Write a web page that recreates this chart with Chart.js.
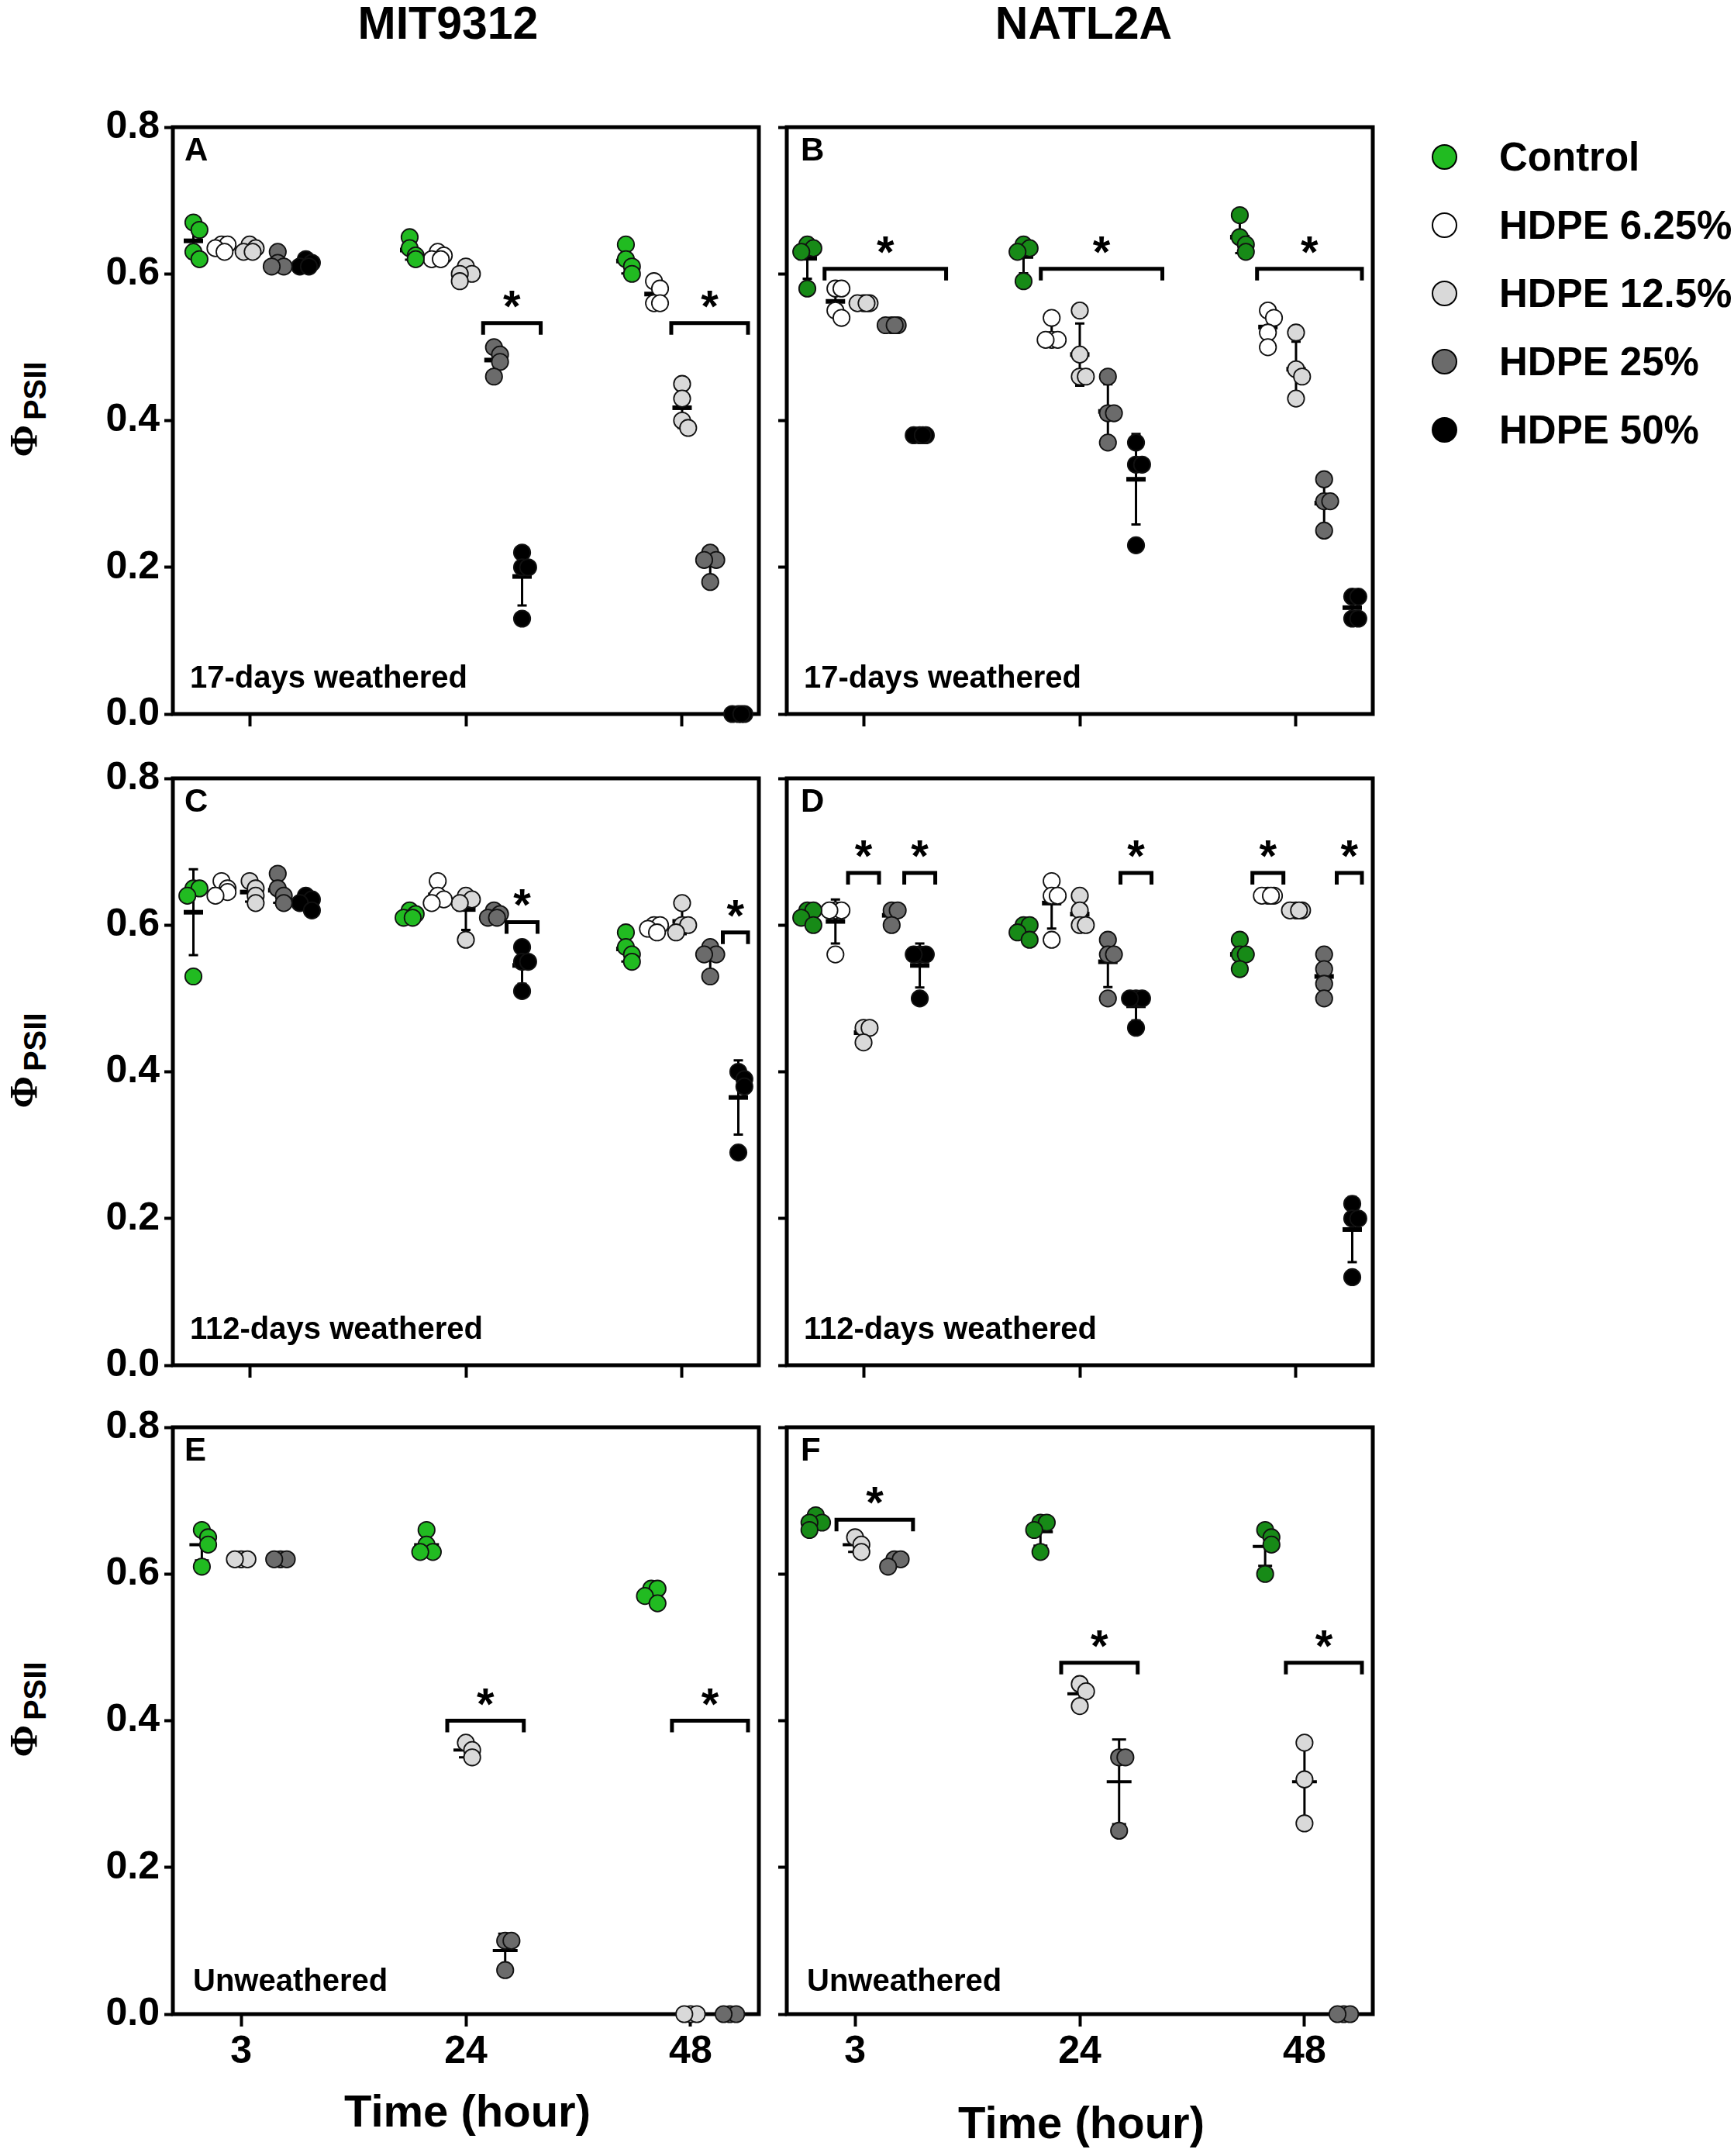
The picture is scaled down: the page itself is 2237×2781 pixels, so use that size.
<!DOCTYPE html>
<html>
<head>
<meta charset="utf-8">
<script src="https://cdn.jsdelivr.net/npm/chart.js@4.4.1/dist/chart.umd.min.js"></script>
<style>
  body { margin: 0; background: #fff; }
  #page { position: relative; width: 2237px; height: 2781px; font-family: "Liberation Sans", Arial, sans-serif; font-weight: bold; color: #000; overflow: hidden; }
  #page canvas { position: absolute; }
  .txt { position: absolute; line-height: 1; white-space: nowrap; z-index: 2; }
  .center { transform: translateX(-50%); }
  .ytitle { position: absolute; line-height: 1; white-space: nowrap; transform: translate(-50%, -50%) rotate(-90deg); }
  .ytitle .phi { font-family: "Liberation Serif", serif; font-size: 50px; font-weight: bold; }
  .ytitle .sub { font-size: 40px; position: relative; top: 12px; margin-left: 6px; }
  .dot { position: absolute; width: 33px; height: 33px; border-radius: 50%; border: 2.5px solid #000; box-sizing: border-box; }
</style>
</head>
<body>
<div id="page"></div>
<script>
// ---- data ----
const timeLabels = ['3', '24', '48'];
const treatments = ['Control', 'HDPE 6.25%', 'HDPE 12.5%', 'HDPE 25%', 'HDPE 50%'];
const strains = ['MIT9312', 'NATL2A'];
const conditions = ['17-days weathered', '112-days weathered', 'Unweathered'];

// each array: [3 h replicates, 24 h replicates, 48 h replicates]
const A_ctrl = [[0.67, 0.66, 0.63, 0.62], [0.65, 0.635, 0.625, 0.62], [0.64, 0.62, 0.61, 0.60]];
const A_p6   = [[0.64, 0.64, 0.635, 0.63], [0.63, 0.625, 0.62, 0.62], [0.59, 0.58, 0.56, 0.56]];
const A_p12  = [[0.64, 0.635, 0.63, 0.63], [0.61, 0.60, 0.60, 0.59], [0.45, 0.43, 0.40, 0.39]];
const A_p25  = [[0.63, 0.615, 0.61, 0.61], [0.50, 0.49, 0.48, 0.46], [0.22, 0.21, 0.21, 0.18]];
const A_p50  = [[0.62, 0.615, 0.61, 0.61], [0.22, 0.20, 0.20, 0.13], [0, 0, 0, 0]];

const B_ctrl = [[0.64, 0.635, 0.63, 0.58], [0.64, 0.635, 0.63, 0.59], [0.68, 0.65, 0.64, 0.63]];
const B_p6   = [[0.58, 0.58, 0.55, 0.54], [0.54, 0.51, 0.51, 0.51], [0.55, 0.54, 0.52, 0.50]];
const B_p12  = [[0.56, 0.56, 0.56, 0.56], [0.55, 0.49, 0.46, 0.46], [0.52, 0.47, 0.46, 0.43]];
const B_p25  = [[0.53, 0.53, 0.53, 0.53], [0.46, 0.41, 0.41, 0.37], [0.32, 0.29, 0.29, 0.25]];
const B_p50  = [[0.38, 0.38, 0.38, 0.38], [0.37, 0.34, 0.34, 0.23], [0.16, 0.16, 0.13, 0.13]];

const C_ctrl = [[0.65, 0.65, 0.64, 0.53], [0.62, 0.615, 0.61, 0.61], [0.59, 0.57, 0.56, 0.55]];
const C_p6   = [[0.66, 0.65, 0.645, 0.64], [0.66, 0.64, 0.635, 0.63], [0.60, 0.60, 0.595, 0.59]];
const C_p12  = [[0.66, 0.65, 0.64, 0.63], [0.64, 0.635, 0.63, 0.58], [0.63, 0.60, 0.60, 0.59]];
const C_p25  = [[0.67, 0.65, 0.64, 0.63], [0.62, 0.615, 0.61, 0.61], [0.57, 0.56, 0.56, 0.53]];
const C_p50  = [[0.64, 0.635, 0.63, 0.62], [0.57, 0.55, 0.55, 0.51], [0.40, 0.39, 0.38, 0.29]];

const D_ctrl = [[0.62, 0.62, 0.61, 0.60], [0.60, 0.60, 0.59, 0.58], [0.58, 0.56, 0.56, 0.54]];
const D_p6   = [[0.62, 0.62, 0.62, 0.56], [0.66, 0.64, 0.64, 0.58], [0.64, 0.64, 0.64, 0.64]];
const D_p12  = [[0.46, 0.46, 0.44], [0.64, 0.62, 0.60, 0.60], [0.62, 0.62, 0.62, 0.62]];
const D_p25  = [[0.62, 0.62, 0.60], [0.58, 0.56, 0.56, 0.50], [0.56, 0.54, 0.52, 0.50]];
const D_p50  = [[0.56, 0.56, 0.56, 0.50], [0.50, 0.50, 0.50, 0.46], [0.22, 0.20, 0.20, 0.12]];

const E_ctrl = [[0.66, 0.65, 0.64, 0.61], [0.66, 0.64, 0.63, 0.63], [0.58, 0.58, 0.57, 0.56]];
const E_p12  = [[0.62, 0.62, 0.62], [0.37, 0.36, 0.35], [0, 0, 0]];
const E_p25  = [[0.62, 0.62, 0.62], [0.10, 0.10, 0.06], [0, 0, 0]];

const F_ctrl = [[0.68, 0.67, 0.67, 0.66], [0.67, 0.67, 0.66, 0.63], [0.66, 0.65, 0.64, 0.60]];
const F_p12  = [[0.65, 0.64, 0.63], [0.45, 0.44, 0.42], [0.37, 0.32, 0.26]];
const F_p25  = [[0.62, 0.62, 0.61], [0.35, 0.35, 0.25], [0, 0, 0]];

// significance brackets: [time index, first treatment, last treatment, bracket height]
const A_sig = [[1, 3, 4, 0.533], [2, 2, 4, 0.533]];
const B_sig = [[0, 1, 4, 0.607], [1, 1, 4, 0.607], [2, 1, 4, 0.607]];
const C_sig = [[1, 4, 4, 0.604], [2, 4, 4, 0.590]];
const D_sig = [[0, 2, 2, 0.671], [0, 4, 4, 0.671], [1, 4, 4, 0.671], [2, 1, 1, 0.671], [2, 4, 4, 0.671]];
const E_sig = [[1, 2, 3, 0.40], [2, 2, 3, 0.40]];
const F_sig = [[0, 2, 3, 0.674], [1, 2, 3, 0.479], [2, 2, 3, 0.479]];

// ---- styling / layout ----
const greenMIT = '#21bb21';
const greenNATL = '#178a17';
const fills = [null, '#ffffff', '#d9d9d9', '#6b6b6b', '#000000'];
const FONT = '"Liberation Sans", Arial, sans-serif';

const colLeft = [223, 1015];
const rowTop = [164, 1004, 1841];
const panelW = 756, panelH = 757;

const offsets5 = [-0.26, -0.13, 0, 0.13, 0.26];
const offsets3 = [-0.175, null, 0, 0.175, null];

const panels = [
  { id: 'A', col: 0, row: 0, series: [A_ctrl, A_p6, A_p12, A_p25, A_p50], sig: A_sig, mRight: 24 },
  { id: 'B', col: 1, row: 0, series: [B_ctrl, B_p6, B_p12, B_p25, B_p50], sig: B_sig, mRight: 34 },
  { id: 'C', col: 0, row: 1, series: [C_ctrl, C_p6, C_p12, C_p25, C_p50], sig: C_sig, mRight: 24 },
  { id: 'D', col: 1, row: 1, series: [D_ctrl, D_p6, D_p12, D_p25, D_p50], sig: D_sig, mRight: 24 },
  { id: 'E', col: 0, row: 2, series: [E_ctrl, null, E_p12, E_p25, null], sig: E_sig, mRight: 24 },
  { id: 'F', col: 1, row: 2, series: [F_ctrl, null, F_p12, F_p25, null], sig: F_sig, mRight: 24 },
];

const page = document.getElementById('page');

function addText(str, left, top, size, extraClass) {
  const d = document.createElement('div');
  d.className = 'txt' + (extraClass ? ' ' + extraClass : '');
  d.textContent = str;
  d.style.left = left + 'px';
  d.style.top = top + 'px';
  d.style.fontSize = size + 'px';
  page.appendChild(d);
  return d;
}

const mean = a => a.reduce((s, v) => s + v, 0) / a.length;
const sd = a => {
  if (a.length < 2) return 0;
  const m = mean(a);
  return Math.sqrt(a.reduce((s, v) => s + (v - m) * (v - m), 0) / (a.length - 1));
};

// spread overlapping replicates sideways a little, like the scatter-dot plot
const spread = [0, 1, -1, 0.5];
function toPoints(cells, offset, step) {
  const pts = [];
  cells.forEach((vals, g) => {
    vals.forEach((v, i) => {
      const near = vals.slice(0, i).filter(u => Math.abs(u - v) < 0.012).length;
      pts.push({ x: g + offset + spread[near % spread.length] * step, y: v });
    });
  });
  return pts;
}

const panelDecor = {
  id: 'panelDecor',
  beforeDatasetsDraw(chart, args, o) {
    const { ctx, chartArea: a, scales: { x, y } } = chart;
    ctx.save();
    ctx.strokeStyle = '#000';
    ctx.lineWidth = 5;
    ctx.strokeRect(a.left, a.top, a.right - a.left, a.bottom - a.top);

    // mean and SD
    chart.data.datasets.forEach(ds => {
      ds.cells.forEach((vals, g) => {
        const m = mean(vals), s = sd(vals);
        const cx = x.getPixelForValue(g + ds.offset);
        const ym = y.getPixelForValue(m);
        if (s > 0) {
          const yt = y.getPixelForValue(m + s), yb = y.getPixelForValue(Math.max(m - s, 0));
          ctx.lineWidth = 3;
          ctx.beginPath();
          ctx.moveTo(cx, yt); ctx.lineTo(cx, yb);
          ctx.moveTo(cx - o.capW / 2, yt); ctx.lineTo(cx + o.capW / 2, yt);
          ctx.moveTo(cx - o.capW / 2, yb); ctx.lineTo(cx + o.capW / 2, yb);
          ctx.stroke();
        }
        ctx.lineWidth = o.barH;
        ctx.beginPath();
        ctx.moveTo(cx - o.barW / 2, ym); ctx.lineTo(cx + o.barW / 2, ym);
        ctx.stroke();
      });
    });
    ctx.restore();
  },
  afterDatasetsDraw(chart, args, o) {
    const { ctx, chartArea: a, scales: { x, y } } = chart;
    ctx.save();
    ctx.strokeStyle = '#000';
    ctx.fillStyle = '#000';
    ctx.lineWidth = 5;
    ctx.lineJoin = 'miter';
    ctx.font = 'bold 58px ' + FONT;
    ctx.textAlign = 'center';
    ctx.textBaseline = 'alphabetic';
    o.sig.forEach(([g, t0, t1, v]) => {
      const single = t0 === t1;
      const xa = x.getPixelForValue(g + o.offsets[t0]) - (single ? o.mSingle : o.mLeft);
      const xb = Math.min(x.getPixelForValue(g + o.offsets[t1]) + (single ? o.mSingle : o.mRight), a.right - 14);
      const yp = y.getPixelForValue(v);
      ctx.beginPath();
      ctx.moveTo(xa, yp + 15); ctx.lineTo(xa, yp); ctx.lineTo(xb, yp); ctx.lineTo(xb, yp + 15);
      ctx.stroke();
      ctx.fillText('*', (xa + xb) / 2, yp - 2);
    });
    ctx.restore();
  }
};

panels.forEach(p => {
  const left = colLeft[p.col], top = rowTop[p.row];
  const bottomRow = p.row === 2;
  const three = p.id === 'E' || p.id === 'F';
  const offsets = three ? offsets3 : offsets5;
  const xMin = three ? -0.304 : -0.355, xMax = three ? 2.304 : 2.355;
  const axL = p.col === 0 ? 110 : 30;
  const padT = 40, padR = 20;
  const axB = bottomRow ? 110 : 40;

  const cv = document.createElement('canvas');
  cv.width = panelW + axL + padR;
  cv.height = panelH + padT + axB;
  cv.style.left = (left - axL) + 'px';
  cv.style.top = (top - padT) + 'px';
  page.appendChild(cv);

  const datasets = [];
  p.series.forEach((cells, t) => {
    if (!cells) return;
    datasets.push({
      label: treatments[t],
      data: toPoints(cells, offsets[t], 0.028),
      cells: cells,
      offset: offsets[t],
      pointRadius: 10.7,
      pointHoverRadius: 10.7,
      pointBackgroundColor: t === 0 ? (p.col === 0 ? greenMIT : greenNATL) : fills[t],
      pointBorderColor: '#111',
      pointBorderWidth: 1.8,
      showLine: false,
      clip: false
    });
  });

  new Chart(cv.getContext('2d'), {
    type: 'scatter',
    data: { datasets },
    options: {
      responsive: false,
      animation: false,
      devicePixelRatio: 1,
      layout: { padding: { top: padT, right: padR, left: 0, bottom: 0 } },
      plugins: {
        legend: { display: false },
        tooltip: { enabled: false },
        panelDecor: {
          sig: p.sig, offsets,
          barW: three ? 32 : 25, barH: three ? 4 : 6, capW: three ? 18 : 12,
          mLeft: three ? 24 : 14, mRight: p.mRight, mSingle: 20
        }
      },
      scales: {
        x: {
          type: 'linear', min: xMin, max: xMax,
          afterBuildTicks: s => { s.ticks = [0, 1, 2].map(v => ({ value: v })); },
          afterFit: s => { s.height = axB; s.paddingLeft = 0; s.paddingRight = 0; },
          ticks: {
            autoSkip: false, maxRotation: 0, padding: 3, color: '#000',
            font: { family: FONT, size: 50, weight: 'bold' },
            callback: (v, i) => bottomRow ? timeLabels[i] : ''
          },
          grid: { drawOnChartArea: false, drawTicks: true, tickLength: 16, tickWidth: 4, tickColor: '#000' },
          border: { display: false }
        },
        y: {
          min: 0, max: 0.8,
          afterFit: s => { s.width = axL; s.paddingTop = 0; s.paddingBottom = 0; },
          ticks: {
            stepSize: 0.2, padding: 6, color: '#000',
            font: { family: FONT, size: 50, weight: 'bold' },
            callback: v => p.col === 0 ? v.toFixed(1) : ''
          },
          grid: { drawOnChartArea: false, drawTicks: true, tickLength: 11, tickWidth: 4, tickColor: '#000' },
          border: { display: false }
        }
      }
    },
    plugins: [panelDecor]
  });

  // panel letter and condition label
  addText(p.id, left + (p.col === 0 ? 15 : 18), top + 8, 42);
  const lx = bottomRow ? 26 : 22, lb = bottomRow ? 30 : 34;
  addText(conditions[p.row], left + lx, top + panelH - lb - 34, 40);
});

// column titles
addText(strains[0], 578, 1, 59, 'center');
addText(strains[1], 1398, 1, 59, 'center');

// x axis titles
addText('Time (hour)', 603, 2694, 58, 'center');
addText('Time (hour)', 1395, 2709, 58, 'center');

// y axis titles
rowTop.forEach(t => {
  const d = document.createElement('div');
  d.className = 'ytitle';
  d.innerHTML = '<span class="phi">\u03A6</span><span class="sub">PSII</span>';
  d.style.left = '30px';
  d.style.top = (t + panelH / 2 - 15) + 'px';
  page.appendChild(d);
});

// legend
treatments.forEach((name, i) => {
  const cy = 202 + i * 88;
  const dot = document.createElement('div');
  dot.className = 'dot';
  dot.style.left = (1863 - 16.5) + 'px';
  dot.style.top = (cy - 16.5) + 'px';
  dot.style.background = i === 0 ? greenMIT : fills[i];
  page.appendChild(dot);
  addText(name, 1934, cy - 25, 51);
});
</script>
</body>
</html>
